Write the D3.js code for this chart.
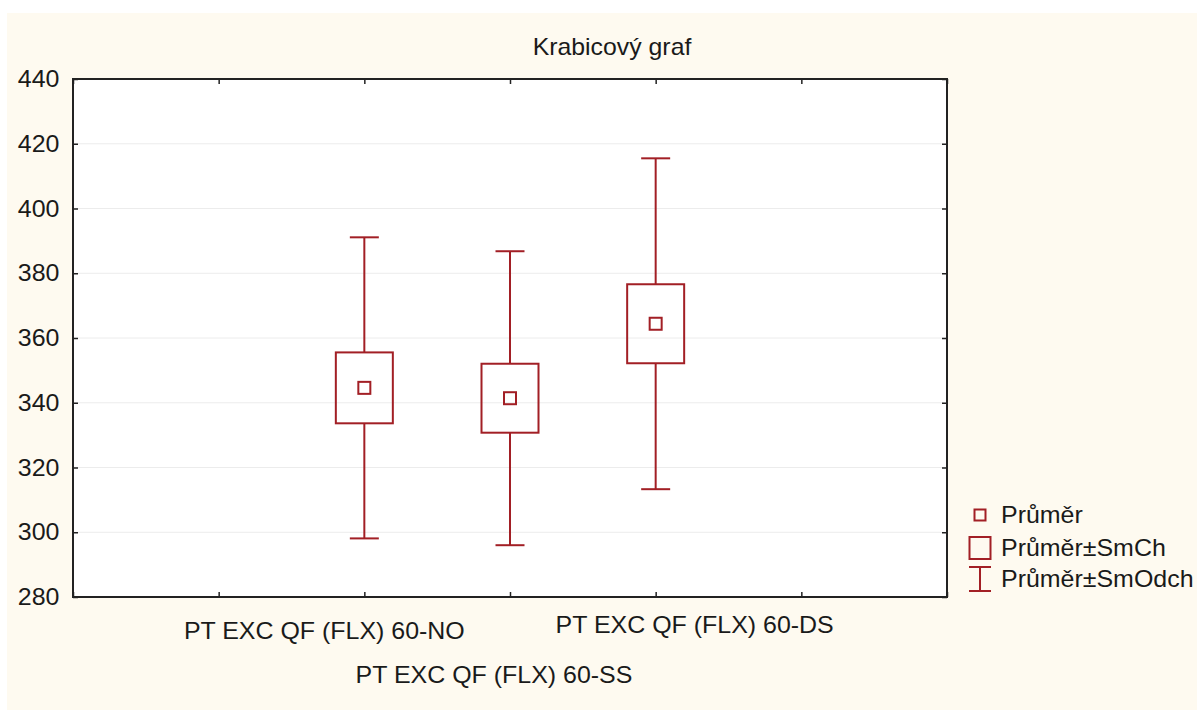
<!DOCTYPE html>
<meta charset="utf-8">
<title>Krabicový graf</title>
<style>
body { margin: 0; background: #fff; }
text { font-family: "Liberation Sans", Arial, sans-serif; fill: #1a1a1a; font-size: 24px; }
.axis .domain { display: none; }
</style>
<svg width="1197" height="711"></svg>
<script src="https://d3js.org/d3.v7.min.js"></script>
<script>
// values: mean, mean±SE (box), mean±SD (whiskers)
var categories = ["PT EXC QF (FLX) 60-NO", "PT EXC QF (FLX) 60-SS", "PT EXC QF (FLX) 60-DS"];
var positions = [2, 3, 4];
var means = [344.6, 341.4, 364.4];
var stdErr = [10.95, 10.65, 12.2];
var stdDev = [46.5, 45.4, 51.1];
var yTicks = [280, 300, 320, 340, 360, 380, 400, 420, 440];
var xTicks = [0, 1, 2, 3, 4, 5, 6];
var legendLabels = ["Průměr", "Průměr±SmCh", "Průměr±SmOdch"];
var title = "Krabicový graf";

var red = "#a21f25",
    stretch = 1.04;   // source text is slightly wide

var svg = d3.select("svg");

var margin = {top: 79, right: 250, bottom: 114, left: 73},
    width = 1197 - margin.left - margin.right,
    height = 711 - margin.top - margin.bottom;

// cream panel
svg.append("rect")
  .attr("x", 7).attr("y", 13)
  .attr("width", 1190).attr("height", 697)
  .attr("fill", "#fefaf0");

var g = svg.append("g").attr("transform", "translate(" + margin.left + "," + margin.top + ")");

var x = d3.scaleLinear().domain([0, 6]).range([0, width]);
var y = d3.scaleLinear().domain([280, 440]).range([height, 0]);

g.append("rect")
  .attr("width", width).attr("height", height)
  .attr("fill", "#fff");

// grid
g.append("g")
  .selectAll("line")
  .data(yTicks.slice(1, -1))
  .enter().append("line")
  .attr("x1", 0).attr("x2", width)
  .attr("y1", d => y(d)).attr("y2", d => y(d))
  .attr("stroke", "#ececec").attr("stroke-width", 1);

// inward ticks on all sides
g.append("g").attr("class", "axis")
  .call(d3.axisLeft(y).tickValues(yTicks).tickSizeInner(-5).tickSizeOuter(0).tickPadding(13))
  .call(a => a.selectAll("line").attr("stroke", "#222").attr("stroke-width", 1.5))
  .call(a => a.selectAll("text").attr("transform", "scale(" + stretch + ",1)").style("font-size", "24px").attr("fill", "#1a1a1a"));

g.append("g").attr("class", "axis")
  .attr("transform", "translate(" + width + ",0)")
  .call(d3.axisRight(y).tickValues(yTicks).tickSizeInner(-5).tickSizeOuter(0).tickFormat(""))
  .call(a => a.selectAll("line").attr("stroke", "#222").attr("stroke-width", 1.5));

g.append("g").attr("class", "axis")
  .call(d3.axisTop(x).tickValues(xTicks).tickSizeInner(-5).tickSizeOuter(0).tickFormat(""))
  .call(a => a.selectAll("line").attr("stroke", "#222").attr("stroke-width", 1.5));

g.append("g").attr("class", "axis")
  .attr("transform", "translate(0," + height + ")")
  .call(d3.axisBottom(x).tickValues(xTicks).tickSizeInner(-5).tickSizeOuter(0).tickFormat(""))
  .call(a => a.selectAll("line").attr("stroke", "#222").attr("stroke-width", 1.5));

// frame
g.append("rect")
  .attr("width", width).attr("height", height)
  .attr("fill", "none").attr("stroke", "#222").attr("stroke-width", 2);

// category labels, staggered like the source
var labelShift = [-40, -16, 39],
    labelY = [42, 86, 36];
g.append("g")
  .selectAll("text")
  .data(categories)
  .enter().append("text")
  .attr("text-anchor", "middle")
  .attr("transform", (d, i) => "translate(" + (x(positions[i]) + labelShift[i]) + "," + (height + labelY[i]) + ") scale(" + stretch + ",1)")
  .text(d => d);

// boxes
var data = categories.map((c, i) => ({name: c, pos: positions[i], mean: means[i], se: stdErr[i], sd: stdDev[i]}));
var boxW = 57, capW = 29, meanS = 12;

var box = g.append("g")
  .attr("fill", "none").attr("stroke", red).attr("stroke-width", 2)
  .selectAll("g")
  .data(data)
  .enter().append("g")
  .attr("transform", d => "translate(" + x(d.pos) + ",0)");

box.append("line")
  .attr("y1", d => y(d.mean + d.sd)).attr("y2", d => y(d.mean + d.se));
box.append("line")
  .attr("y1", d => y(d.mean - d.se)).attr("y2", d => y(d.mean - d.sd));
box.append("line")
  .attr("x1", -capW / 2).attr("x2", capW / 2)
  .attr("y1", d => y(d.mean + d.sd)).attr("y2", d => y(d.mean + d.sd));
box.append("line")
  .attr("x1", -capW / 2).attr("x2", capW / 2)
  .attr("y1", d => y(d.mean - d.sd)).attr("y2", d => y(d.mean - d.sd));
box.append("rect")
  .attr("x", -boxW / 2).attr("width", boxW)
  .attr("y", d => y(d.mean + d.se))
  .attr("height", d => y(d.mean - d.se) - y(d.mean + d.se));
box.append("rect")
  .attr("x", -meanS / 2).attr("width", meanS)
  .attr("y", d => y(d.mean) - meanS / 2).attr("height", meanS);

// title
svg.append("text")
  .attr("text-anchor", "middle")
  .attr("transform", "translate(612,55) scale(1.08,1)")
  .style("font-size", "23px")
  .text(title);

// legend
var legend = svg.append("g")
  .attr("transform", "translate(980,0)")
  .selectAll("g")
  .data(legendLabels)
  .enter().append("g")
  .attr("transform", (d, i) => "translate(0," + [515, 548, 579][i] + ")");

legend.each(function(d, i) {
  var s = d3.select(this).append("g").attr("fill", "none").attr("stroke", red).attr("stroke-width", 2);
  if (i === 0) s.append("rect").attr("x", -5.5).attr("y", -5.5).attr("width", 11).attr("height", 11);
  if (i === 1) s.append("rect").attr("x", -10.5).attr("y", -11).attr("width", 21).attr("height", 22);
  if (i === 2) {
    s.append("line").attr("y1", -12).attr("y2", 12);
    s.append("line").attr("x1", -11).attr("x2", 11).attr("y1", -12).attr("y2", -12);
    s.append("line").attr("x1", -11).attr("x2", 11).attr("y1", 12).attr("y2", 12);
  }
});

legend.append("text")
  .attr("transform", "translate(21,8) scale(" + stretch + ",1)")
  .text(d => d);
</script>
